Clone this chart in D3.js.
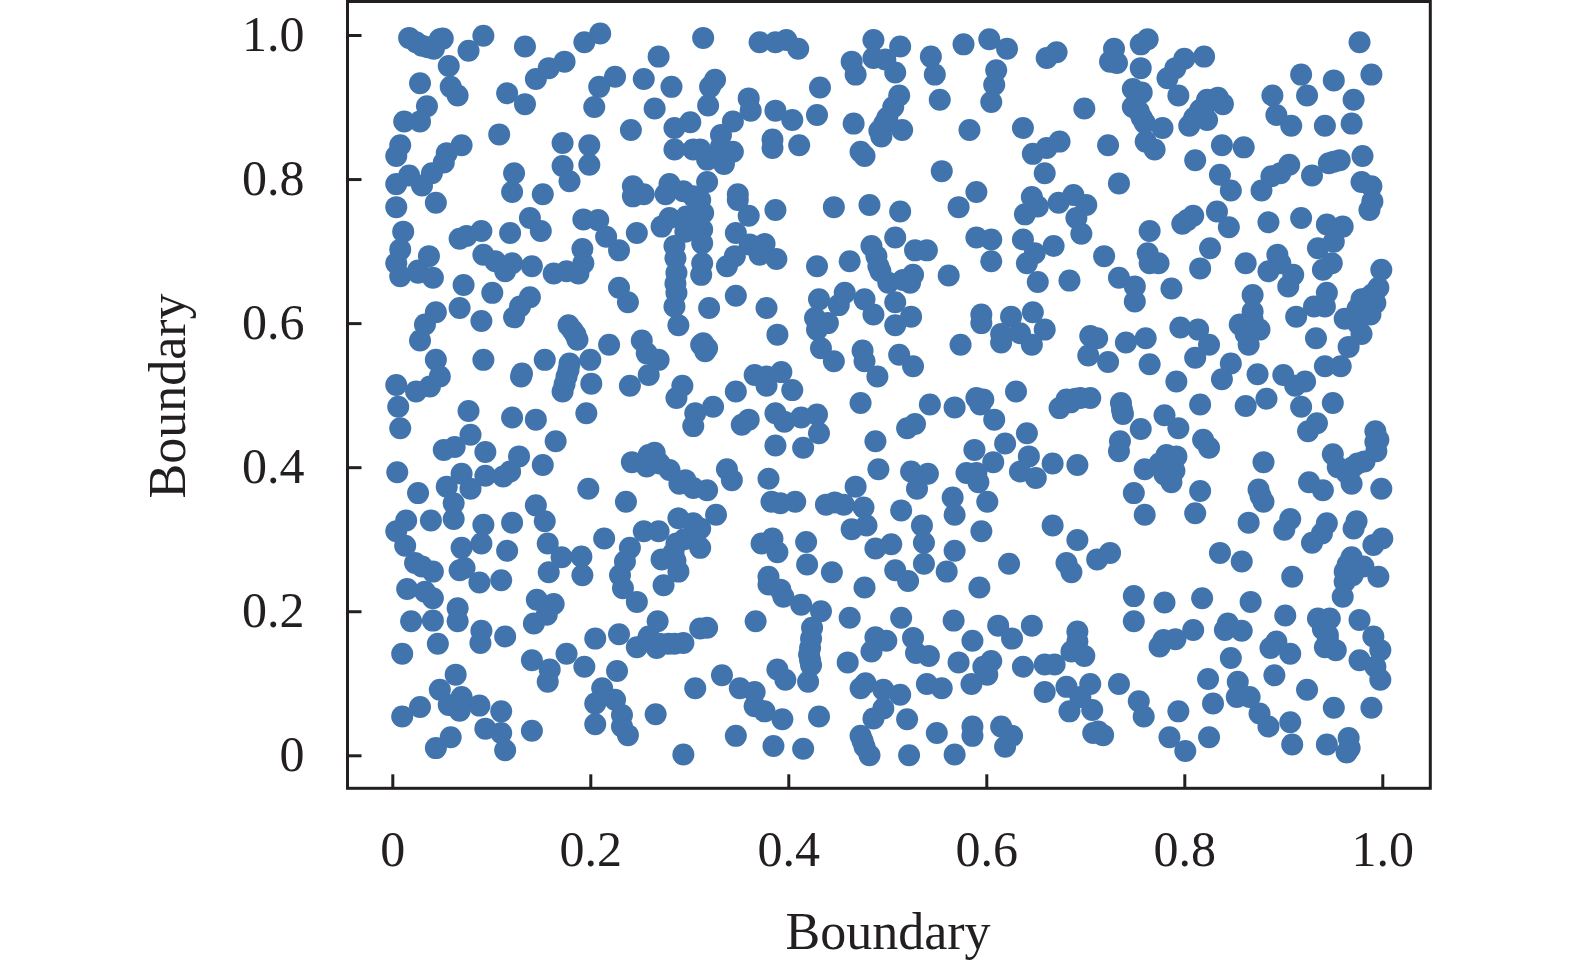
<!DOCTYPE html>
<html>
<head>
<meta charset="utf-8">
<script src="https://cdn.jsdelivr.net/npm/d3@7.9.0/dist/d3.min.js"></script>
<style>
  body { margin: 0; background: #fff; }
  text { font-family: "Liberation Serif", serif; fill: #231f20; }
</style>
</head>
<body>
<div id="chart"></div>
<script>
const tickValues = [0, 0.2, 0.4, 0.6, 0.8, 1.0];
const xLabel = 'Boundary';
const yLabel = 'Boundary';

// one list per part of the square
const topLeft = [[.017,.996],[.030,.985],[.042,.981],[.048,.994],[.051,.995],[.077,.978],[.092,.999],[.134,.984],[.057,.957],[.028,.933],[.059,.928],[.066,.916],[.116,.919],[.134,.904],[.145,.939],[.158,.954],[.174,.963],[.194,.990],[.210,1.002],[.269,.970],[.254,.939],[.282,.928],[.225,.942],[.209,.928],[.204,.900],[.265,.898],[.241,.868],[.035,.901],[.028,.880],[.012,.880],[.108,.862],[.172,.850],[.199,.847],[.199,.820],[.172,.818],[.179,.797],[.008,.847],[.004,.832],[.070,.847],[.055,.836],[.052,.823],[.040,.808],[.030,.791],[.017,.805],[.004,.793],[.123,.808],[.121,.782],[.152,.779],[.044,.767],[.004,.761],[.243,.790],[.243,.776],[.254,.779],[.280,.793],[.276,.779],[.294,.783],[.304,.776],[.139,.746],[.150,.728],[.119,.725],[.247,.725],[.193,.744],[.208,.743],[.216,.720],[.229,.701],[.090,.728],[.075,.721],[.068,.717],[.272,.734],[.280,.746],[.297,.748],[.296,.727],[.285,.707],[.285,.871],[.301,.879],[.285,.841],[.304,.841],[.011,.727],[.008,.702],[.004,.683],[.037,.693],[.026,.673],[.092,.695],[.104,.686],[.121,.683],[.141,.679],[.176,.672],[.192,.703],[.193,.683],[.024,.990],[.036,.983],[.286,.690]];

const topMiddle = [[.314,.996],[.371,.990],[.387,.990],[.398,.993],[.410,.981],[.326,.938],[.321,.928],[.319,.902],[.432,.927],[.429,.889],[.360,.912],[.362,.895],[.387,.895],[.404,.882],[.344,.880],[.332,.861],[.332,.845],[.344,.838],[.311,.841],[.318,.827],[.335,.821],[.384,.855],[.384,.843],[.411,.847],[.318,.796],[.311,.771],[.349,.779],[.349,.771],[.360,.749],[.387,.757],[.314,.753],[.313,.730],[.313,.711],[.313,.683],[.347,.725],[.361,.709],[.376,.710],[.371,.695],[.388,.689],[.346,.693],[.338,.679],[.486,.993],[.513,.984],[.464,.963],[.468,.945],[.486,.968],[.508,.948],[.498,.966],[.544,.970],[.548,.945],[.577,.987],[.603,.994],[.621,.981],[.610,.951],[.608,.931],[.605,.907],[.553,.910],[.466,.877],[.512,.916],[.506,.900],[.497,.877],[.494,.859],[.515,.868],[.473,.838],[.477,.832],[.583,.868],[.637,.871],[.661,.968],[.671,.976],[.555,.811],[.590,.782],[.572,.761],[.647,.835],[.661,.843],[.674,.852],[.659,.808],[.646,.775],[.639,.751],[.652,.762],[.673,.767],[.446,.761],[.482,.764],[.513,.755],[.508,.719],[.528,.701],[.540,.701],[.484,.707],[.489,.693],[.491,.679],[.462,.686],[.429,.679],[.590,.719],[.605,.716],[.605,.686],[.637,.716],[.649,.697],[.641,.683],[.668,.707],[.500,.885],[.492,.867]];

const topRight = [[.763,.994],[.756,.987],[.729,.981],[.725,.963],[.732,.961],[.756,.954],[.800,.967],[.820,.970],[.791,.954],[.783,.940],[.794,.916],[.699,.898],[.748,.925],[.757,.920],[.754,.894],[.760,.878],[.778,.871],[.761,.852],[.770,.841],[.723,.847],[.809,.749],[.798,.738],[.833,.755],[.845,.733],[.765,.728],[.734,.794],[.688,.778],[.701,.764],[.691,.746],[.696,.724],[.811,.826],[.838,.847],[.860,.844],[.836,.806],[.847,.784],[.878,.784],[.888,.804],[.897,.808],[.906,.820],[.946,.822],[.957,.826],[.980,.832],[.929,.805],[.979,.796],[.989,.790],[.990,.769],[.987,.757],[.918,.945],[.951,.937],[.989,.945],[.977,.990],[.889,.916],[.924,.916],[.971,.910],[.893,.889],[.908,.874],[.942,.874],[.969,.877],[.823,.910],[.834,.913],[.839,.904],[.816,.896],[.814,.887],[.823,.882],[.805,.874],[.918,.746],[.885,.740],[.944,.737],[.960,.734],[.951,.713],[.935,.704],[.719,.693],[.763,.697],[.765,.683],[.774,.683],[.826,.704],[.816,.676],[.862,.683],[.894,.695],[.897,.683],[.885,.672],[.949,.683],[.940,.674],[.999,.674],[.757,.885],[.748,.900],[.820,.900],[.830,.910],[.810,.885],[.803,.743],[.951,.824]];

const middleLeft = [[.008,.665],[.041,.663],[.026,.670],[.114,.672],[.163,.669],[.188,.669],[.287,.670],[.072,.653],[.101,.642],[.229,.649],[.238,.629],[.139,.636],[.129,.623],[.123,.608],[.287,.642],[.285,.623],[.289,.597],[.044,.615],[.033,.598],[.028,.576],[.068,.621],[.090,.603],[.178,.597],[.185,.584],[.187,.577],[.219,.570],[.252,.576],[.257,.558],[.269,.549],[.259,.528],[.044,.549],[.092,.549],[.154,.549],[.200,.549],[.179,.544],[.176,.526],[.172,.505],[.130,.526],[.201,.516],[.048,.526],[.038,.512],[.024,.505],[.004,.514],[.006,.484],[.008,.454],[.240,.513],[.293,.513],[.287,.496],[.306,.475],[.304,.457],[.077,.478],[.121,.469],[.145,.466],[.196,.475],[.165,.436],[.079,.445],[.063,.428],[.052,.424],[.094,.421],[.128,.415],[.152,.403],[.005,.393],[.070,.391],[.094,.388],[.112,.387],[.119,.394],[.055,.373],[.079,.370],[.026,.364],[.198,.370],[.236,.352],[.242,.407],[.257,.401],[.259,.417],[.265,.420],[.280,.396],[.296,.382],[.304,.371],[.062,.350],[.062,.328],[.145,.347],[.154,.325],[.014,.326],[.039,.326],[.092,.320],[.121,.323],[.289,.329],[.304,.322],[.286,.655],[.182,.590],[.178,.535],[.174,.515],[.131,.530],[.270,.405],[.290,.377]];

const center = [[.312,.667],[.347,.638],[.320,.621],[.378,.621],[.389,.584],[.314,.572],[.316,.561],[.493,.672],[.501,.656],[.526,.667],[.516,.660],[.523,.656],[.562,.666],[.652,.657],[.431,.633],[.457,.642],[.451,.625],[.477,.633],[.486,.612],[.508,.629],[.524,.609],[.508,.597],[.427,.607],[.440,.600],[.429,.591],[.433,.565],[.446,.547],[.475,.562],[.477,.547],[.490,.526],[.512,.556],[.526,.540],[.595,.612],[.595,.600],[.625,.609],[.647,.615],[.659,.591],[.615,.585],[.615,.573],[.634,.586],[.646,.570],[.574,.570],[.366,.528],[.378,.526],[.393,.532],[.378,.513],[.404,.507],[.347,.505],[.324,.484],[.360,.466],[.353,.459],[.387,.475],[.396,.463],[.413,.469],[.429,.473],[.431,.447],[.387,.430],[.415,.427],[.473,.489],[.543,.487],[.568,.483],[.590,.496],[.597,.494],[.594,.487],[.608,.466],[.630,.505],[.520,.454],[.528,.460],[.488,.436],[.491,.397],[.641,.447],[.619,.433],[.588,.424],[.607,.407],[.580,.392],[.590,.392],[.592,.379],[.643,.415],[.634,.394],[.650,.385],[.667,.405],[.524,.394],[.541,.391],[.530,.370],[.566,.358],[.568,.334],[.601,.352],[.514,.340],[.338,.397],[.343,.382],[.380,.384],[.318,.368],[.327,.334],[.383,.352],[.392,.350],[.407,.352],[.438,.348],[.447,.351],[.456,.348],[.476,.344],[.468,.373],[.318,.565],[.312,.570]];

const middleRight = [[.684,.659],[.734,.663],[.750,.651],[.750,.630],[.787,.648],[.910,.667],[.905,.651],[.869,.639],[.869,.616],[.856,.598],[.866,.593],[.876,.591],[.865,.570],[.996,.649],[.979,.633],[.993,.628],[.988,.612],[.962,.606],[.979,.585],[.966,.567],[.944,.642],[.931,.623],[.942,.623],[.913,.609],[.933,.579],[.796,.594],[.814,.591],[.825,.570],[.811,.552],[.847,.544],[.838,.522],[.874,.529],[.792,.519],[.705,.582],[.712,.579],[.703,.555],[.723,.546],[.741,.573],[.761,.579],[.765,.543],[.942,.540],[.958,.540],[.900,.528],[.912,.513],[.922,.519],[.950,.489],[.918,.484],[.883,.495],[.862,.485],[.816,.487],[.934,.461],[.925,.450],[.681,.494],[.695,.496],[.674,.482],[.736,.489],[.738,.474],[.756,.453],[.780,.472],[.794,.454],[.819,.438],[.825,.427],[.735,.436],[.734,.422],[.782,.417],[.792,.415],[.786,.401],[.760,.397],[.787,.379],[.692,.403],[.749,.364],[.816,.367],[.760,.334],[.811,.336],[.880,.407],[.950,.418],[.993,.450],[.996,.438],[.994,.422],[.982,.408],[.964,.392],[.969,.377],[.999,.370],[.926,.379],[.940,.368],[.875,.369],[.880,.352],[.865,.323],[.907,.328],[.944,.322],[.974,.325],[.775,.405],[.790,.395],[.780,.390],[.785,.385],[.869,.605],[.862,.585],[.985,.635],[.975,.620],[.990,.640],[.975,.600],[.993,.435],[.975,.405],[.955,.400],[.970,.400],[.690,.495],[.685,.490],[.705,.496],[.737,.480],[.877,.360]];

const bottomLeft = [[.004,.311],[.013,.291],[.023,.267],[.030,.262],[.041,.255],[.070,.288],[.090,.294],[.116,.284],[.073,.260],[.068,.257],[.088,.240],[.110,.243],[.157,.294],[.171,.275],[.191,.276],[.158,.254],[.192,.250],[.214,.301],[.254,.311],[.269,.311],[.240,.288],[.235,.269],[.230,.250],[.233,.232],[.247,.213],[.287,.294],[.284,.281],[.272,.272],[.289,.255],[.274,.236],[.311,.288],[.311,.315],[.015,.231],[.033,.227],[.041,.218],[.019,.186],[.041,.187],[.066,.204],[.066,.186],[.046,.155],[.010,.141],[.090,.173],[.089,.156],[.114,.165],[.146,.216],[.163,.210],[.156,.195],[.143,.183],[.268,.186],[.259,.165],[.247,.150],[.267,.149],[.279,.155],[.294,.156],[.229,.168],[.205,.162],[.311,.176],[.141,.132],[.159,.119],[.157,.102],[.176,.141],[.194,.123],[.227,.117],[.064,.112],[.048,.091],[.070,.081],[.057,.070],[.068,.062],[.088,.069],[.028,.067],[.010,.054],[.110,.061],[.094,.037],[.110,.031],[.114,.007],[.141,.034],[.059,.025],[.044,.010],[.212,.093],[.225,.077],[.205,.072],[.232,.056],[.232,.040],[.238,.028],[.205,.043],[.266,.057],[.306,.093],[.294,.001],[.286,.270],[.295,.300],[.258,.160],[.270,.155],[.285,.155]];

const bottomMiddle = [[.373,.294],[.384,.301],[.389,.282],[.418,.296],[.419,.265],[.444,.254],[.477,.233],[.464,.314],[.479,.319],[.488,.287],[.504,.293],[.508,.257],[.521,.242],[.535,.319],[.537,.295],[.537,.266],[.568,.284],[.560,.255],[.595,.311],[.623,.266],[.593,.233],[.667,.319],[.380,.248],[.380,.237],[.392,.230],[.395,.220],[.413,.209],[.433,.200],[.424,.177],[.422,.149],[.422,.132],[.367,.186],[.318,.177],[.462,.191],[.514,.191],[.567,.187],[.612,.180],[.626,.162],[.646,.180],[.586,.159],[.488,.164],[.499,.159],[.484,.144],[.526,.163],[.529,.142],[.542,.138],[.460,.129],[.572,.129],[.605,.131],[.597,.123],[.601,.112],[.585,.099],[.637,.123],[.659,.126],[.669,.126],[.659,.088],[.389,.119],[.397,.105],[.420,.102],[.333,.111],[.351,.093],[.366,.088],[.366,.068],[.376,.061],[.394,.050],[.431,.054],[.347,.027],[.385,.013],[.415,.009],[.478,.100],[.473,.093],[.496,.091],[.513,.084],[.496,.065],[.486,.051],[.520,.050],[.540,.099],[.555,.093],[.473,.027],[.477,.012],[.482,0],[.522,0],[.550,.031],[.586,.040],[.586,.027],[.568,.001],[.615,.040],[.626,.027],[.619,.012],[.423,.162],[.421,.140],[.423,.125],[.475,.020]];

const bottomRight = [[.692,.299],[.725,.281],[.712,.272],[.681,.267],[.686,.254],[.749,.221],[.749,.186],[.780,.212],[.818,.218],[.836,.281],[.858,.269],[.867,.213],[.909,.248],[.969,.275],[.962,.255],[.962,.241],[.960,.220],[.981,.262],[.996,.248],[.991,.292],[1.000,.301],[.901,.313],[.929,.295],[.939,.308],[.971,.315],[.692,.172],[.692,.158],[.686,.144],[.699,.138],[.681,.095],[.705,.099],[.695,.081],[.707,.063],[.684,.061],[.734,.099],[.754,.075],[.759,.054],[.713,.033],[.708,.031],[.718,.028],[.779,.160],[.775,.151],[.791,.161],[.809,.174],[.844,.183],[.841,.174],[.858,.173],[.847,.135],[.824,.106],[.829,.072],[.794,.061],[.785,.025],[.801,.006],[.825,.025],[.902,.194],[.893,.158],[.887,.149],[.907,.141],[.891,.111],[.924,.091],[.854,.102],[.853,.081],[.866,.081],[.876,.058],[.885,.040],[.907,.046],[.909,.015],[.944,.015],[.935,.190],[.947,.190],[.945,.167],[.942,.150],[.953,.146],[.977,.188],[.991,.165],[.998,.146],[.977,.132],[.993,.123],[.998,.105],[.951,.066],[.989,.066],[.966,.024],[.967,.010],[.964,.004],[.940,.175],[.945,.160],[.965,.265],[.970,.250]];

const points = [topLeft, topMiddle, topRight, middleLeft, center, middleRight, bottomLeft, bottomMiddle, bottomRight].flat();

const width = 1575;
const height = 964;
const frame = { left: 347.5, top: 1.5, right: 1430.3, bottom: 788.3 };

const svg = d3.select('#chart')
  .append('svg')
  .attr('width', width)
  .attr('height', height)
  .style('display', 'block');

const xScale = d3.scaleLinear().domain([0, 1]).range([392.3, 1382.3]);
const yScale = d3.scaleLinear().domain([0, 1]).range([755.3, 35]);

svg.append('g')
  .attr('class', 'dots')
  .selectAll('circle')
  .data(points)
  .join('circle')
  .attr('cx', d => xScale(d[0]))
  .attr('cy', d => yScale(d[1]))
  .attr('r', 11)
  .attr('fill', '#4174ad');

const labelFormat = d => d === 0 ? '0' : d3.format('.1f')(d);

const xAxis = svg.append('g')
  .attr('transform', `translate(0, ${frame.bottom})`)
  .call(d3.axisBottom(xScale).tickValues(tickValues).tickFormat(labelFormat).tickSizeInner(-14).tickSizeOuter(0).tickPadding(42));

const yAxis = svg.append('g')
  .attr('transform', `translate(${frame.left}, 0)`)
  .call(d3.axisLeft(yScale).tickValues(tickValues).tickFormat(labelFormat).tickSizeInner(-14).tickSizeOuter(0).tickPadding(43));

for (const axis of [xAxis, yAxis]) {
  axis.select('.domain').remove();
  axis.selectAll('.tick line').attr('stroke', '#231f20').attr('stroke-width', 3);
  axis.selectAll('.tick text').attr('font-size', 50).style('font-family', '"Liberation Serif", serif').attr('fill', '#231f20');
}
yAxis.selectAll('.tick text').attr('dy', '0.3em');

svg.append('rect')
  .attr('x', frame.left)
  .attr('y', frame.top)
  .attr('width', frame.right - frame.left)
  .attr('height', frame.bottom - frame.top)
  .attr('fill', 'none')
  .attr('stroke', '#231f20')
  .attr('stroke-width', 3);

svg.append('text')
  .attr('x', 888)
  .attr('y', 949)
  .attr('text-anchor', 'middle')
  .attr('font-size', 52)
  .text(xLabel);

svg.append('text')
  .attr('transform', 'translate(185, 396) rotate(-90)')
  .attr('text-anchor', 'middle')
  .attr('font-size', 52)
  .text(yLabel);
</script>
</body>
</html>
